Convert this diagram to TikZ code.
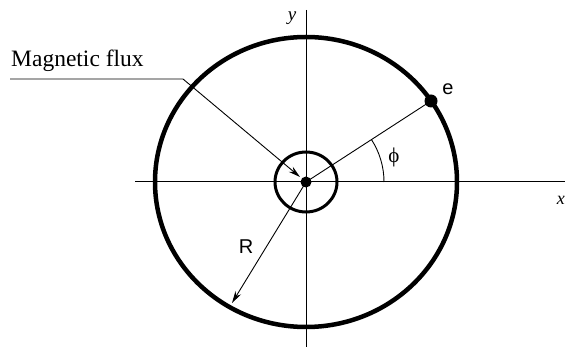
\documentclass[tikz,border=0pt]{standalone}
\usepackage{fontspec}
\setmainfont{Liberation Serif}
\newfontfamily\sansf{Liberation Sans}
\usetikzlibrary{arrows.meta}
\begin{document}
\begin{tikzpicture}[x=1pt,y=-1pt,
  axis/.style={line width=1pt},
  lead/.style={line width=0.9pt},
  arr/.style={-{Stealth[length=12pt,width=6.5pt]}},
  lbl/.style={font=\sansf\fontsize{20}{22}\selectfont, inner sep=0pt},
  dot/.style={circle, fill, inner sep=0pt}
]
\useasboundingbox (0,0) rectangle (565,347);
\coordinate (O) at (306,182);
\coordinate (xl) at (135,182);
\coordinate (xr) at (565,182);
\coordinate (yt) at (306,10);
\coordinate (yb) at (306,347);
\draw[axis] (xl) -- (xr);
\draw[axis] (yt) -- (yb);
\draw[line width=4.5pt] (O) ellipse [x radius=151pt, y radius=145pt];
\draw[line width=3pt] (O) ellipse [x radius=31pt, y radius=30pt];
\node[dot, minimum size=11pt] (c) at (O) {};
\node[dot, minimum size=13pt] (e) at (431,101) {};
\draw[lead] (c.center) -- (e.center);
\coordinate (a0) at (384,182);
\draw[lead] (a0) arc[start angle=0, end angle=33, radius=78pt];
\coordinate (Rtip) at (232,303);
\draw[lead, arr] (c.center) -- (Rtip);
\node[anchor=base west, inner sep=0pt, font=\fontsize{23.5}{27}\selectfont] (mf) at (11,67) {Magnetic flux};
\coordinate (L0) at (10,79);
\coordinate (L1) at (183,79);
\coordinate (Ltip) at (300,177);
\draw[lead, arr] (L0) -- (L1) -- (Ltip);
\node[lbl] (el) at (448,89) {e};
\node[inner sep=0pt, font=\fontsize{21}{23}\selectfont] (phi) at (394,157) {ϕ};
\node[lbl] (R) at (246,247) {R};
\node[inner sep=0pt, font=\itshape\fontsize{19}{21}\selectfont] (yl) at (292,18) {y};
\node[anchor=east, inner sep=0pt, font=\itshape\fontsize{18}{20}\selectfont] (xlab) at (565,200) {x};
\end{tikzpicture}
\end{document}
